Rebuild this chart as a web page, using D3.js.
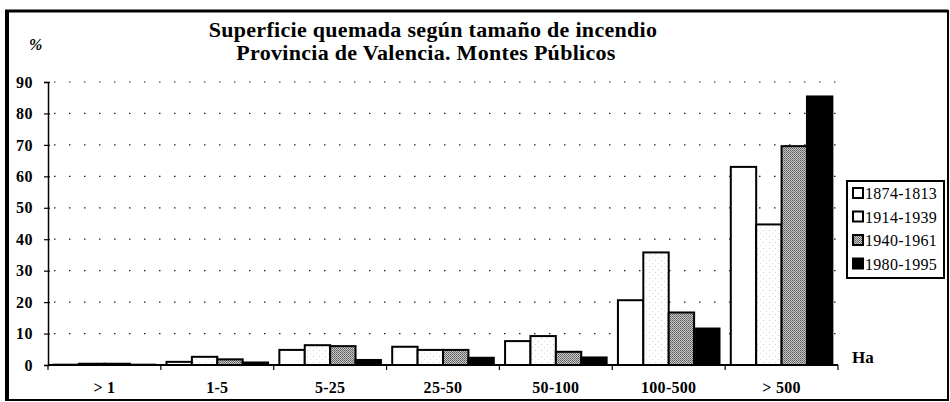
<!DOCTYPE html>
<html>
<head>
<meta charset="utf-8">
<script src="https://cdn.jsdelivr.net/npm/d3@7"></script>
<style>
  body { margin: 0; background: #fff; }
  svg text { font-family: "Liberation Serif", "Times New Roman", serif; fill: #000; }
</style>
</head>
<body>
<svg id="chart" width="950" height="402"></svg>
<script>
// categorias de tamaño (Ha)
var categories = ["> 1", "1-5", "5-25", "25-50", "50-100", "100-500", "> 500"];
var periods = ["1874-1813", "1914-1939", "1940-1961", "1980-1995"];

// % superficie quemada por periodo
var s1874 = [0.1, 1.0, 4.8, 5.8, 7.6, 20.6, 63.0];
var s1914 = [0.4, 2.6, 6.3, 4.8, 9.2, 35.8, 44.7];
var s1940 = [0.4, 1.8, 6.0, 4.8, 4.2, 16.7, 69.6];
var s1980 = [0.1, 0.8, 1.6, 2.3, 2.4, 11.6, 85.4];
var yTicks = [0, 10, 20, 30, 40, 50, 60, 70, 80, 90];

var seriesData = [s1874, s1914, s1940, s1980];

var svg = d3.select("#chart");

// patrones para imitar el tramado
var defs = svg.append("defs");
var p2 = defs.append("pattern").attr("id", "pat2")
    .attr("width", 6).attr("height", 6).attr("patternUnits", "userSpaceOnUse");
p2.append("rect").attr("width", 6).attr("height", 6).attr("fill", "#fff");
p2.append("rect").attr("x", 1).attr("y", 2).attr("width", 1).attr("height", 1).attr("fill", "#ccc");
p2.append("rect").attr("x", 4).attr("y", 5).attr("width", 1).attr("height", 1).attr("fill", "#ddd");

var p3 = defs.append("pattern").attr("id", "pat3")
    .attr("width", 2).attr("height", 2).attr("patternUnits", "userSpaceOnUse");
p3.append("rect").attr("width", 2).attr("height", 2).attr("fill", "#c8c8c8");
p3.append("rect").attr("width", 1).attr("height", 1).attr("fill", "#5a5a5a");
p3.append("rect").attr("x", 1).attr("y", 1).attr("width", 1).attr("height", 1).attr("fill", "#777");

var fills = ["#fff", "url(#pat2)", "url(#pat3)", "#000"];

// marco
svg.append("rect")
    .attr("x", 7).attr("y", 11).attr("width", 941).attr("height", 389)
    .attr("fill", "none").attr("stroke", "#000").attr("stroke-width", 2);
svg.append("line")
    .attr("x1", 7).attr("y1", 10).attr("x2", 7).attr("y2", 401)
    .attr("stroke", "#000").attr("stroke-width", 4);
svg.append("line")
    .attr("x1", 5).attr("y1", 11).attr("x2", 948).attr("y2", 11)
    .attr("stroke", "#000").attr("stroke-width", 3);

var x0 = 48, x1 = 838;
var x = d3.scaleBand()
    .domain(categories)
    .range([x0, x1])
    .paddingInner(0.1)
    .paddingOuter(0.05);
var step = x.step();

var xs = d3.scaleBand()
    .domain(d3.range(periods.length))
    .range([0, x.bandwidth()]);

var y = d3.scaleLinear()
    .domain([0, 90])
    .range([365, 82]);

// lineas de rejilla punteadas
svg.append("g").selectAll("line")
    .data(yTicks.slice(1))
    .enter().append("line")
    .attr("x1", x0 + 6).attr("x2", x1)
    .attr("y1", d => y(d)).attr("y2", d => y(d))
    .attr("stroke", "#222")
    .attr("stroke-width", 1.2)
    .attr("stroke-dasharray", "1.5,13.5");

// barras
var groups = svg.append("g").selectAll("g")
    .data(seriesData)
    .enter().append("g")
    .attr("fill", (d, i) => fills[i]);

groups.selectAll("rect")
    .data((d, i) => d.map((v, j) => ({ v: v, s: i, c: categories[j] })))
    .enter().append("rect")
    .attr("x", d => x(d.c) + xs(d.s))
    .attr("y", d => y(d.v))
    .attr("width", xs.bandwidth())
    .attr("height", d => y(0) - y(d.v))
    .attr("stroke", "#000")
    .attr("stroke-width", 2);

// eje Y
var yAxis = d3.axisLeft(y)
    .tickValues(yTicks)
    .tickSize(4)
    .tickPadding(11);
var gy = svg.append("g")
    .attr("transform", "translate(" + x0 + ",0)")
    .call(yAxis);
gy.attr("font-family", null).attr("font-size", null);
gy.select(".domain").attr("stroke-width", 1.5);
gy.selectAll(".tick line").attr("x2", -4).attr("x1", 2).attr("stroke-width", 1.2);
gy.selectAll("text")
    .style("font-size", "16px")
    .style("font-weight", "bold")
    .style("letter-spacing", "0.5px")
    .attr("fill", "#000");

// eje X
svg.append("line")
    .attr("x1", x0).attr("x2", x1)
    .attr("y1", y(0)).attr("y2", y(0))
    .attr("stroke", "#000").attr("stroke-width", 2);
svg.append("g").selectAll("line")
    .data(d3.range(categories.length + 1))
    .enter().append("line")
    .attr("x1", d => x0 + d * step).attr("x2", d => x0 + d * step)
    .attr("y1", y(0)).attr("y2", y(0) + 5)
    .attr("stroke", "#000").attr("stroke-width", 1.2);
svg.append("g").selectAll("text")
    .data(categories)
    .enter().append("text")
    .attr("x", d => x(d) + x.bandwidth() / 2)
    .attr("y", 393)
    .attr("text-anchor", "middle")
    .style("font-size", "16px")
    .style("font-weight", "bold")
    .style("letter-spacing", "0.3px")
    .text(d => d);

// titulos
svg.append("text")
    .attr("x", 433).attr("y", 37)
    .attr("text-anchor", "middle")
    .style("font-size", "22px").style("font-weight", "bold")
    .style("letter-spacing", "0.3px")
    .text("Superficie quemada según tamaño de incendio");
svg.append("text")
    .attr("x", 426).attr("y", 60)
    .attr("text-anchor", "middle")
    .style("font-size", "22px").style("font-weight", "bold")
    .style("letter-spacing", "0.3px")
    .text("Provincia de Valencia. Montes Públicos");
svg.append("text")
    .attr("x", 29).attr("y", 50)
    .style("font-size", "16px").style("font-weight", "bold").style("font-style", "italic")
    .text("%");
svg.append("text")
    .attr("x", 852).attr("y", 363)
    .style("font-size", "17px").style("font-weight", "bold")
    .text("Ha");

// leyenda
var legend = svg.append("g");
legend.append("rect")
    .attr("x", 847).attr("y", 181).attr("width", 97).attr("height", 97)
    .attr("fill", "#fff").attr("stroke", "#000").attr("stroke-width", 2);
var items = legend.selectAll("g")
    .data(periods)
    .enter().append("g")
    .attr("transform", (d, i) => "translate(853," + (193 + i * 23.5) + ")");
items.append("rect")
    .attr("x", 0).attr("y", -5).attr("width", 10).attr("height", 10)
    .attr("fill", (d, i) => fills[i])
    .attr("stroke", "#000").attr("stroke-width", 2);
items.append("text")
    .attr("x", 12).attr("y", 6)
    .style("font-size", "16px")
    .style("letter-spacing", "0.3px")
    .text(d => d);
</script>
</body>
</html>
